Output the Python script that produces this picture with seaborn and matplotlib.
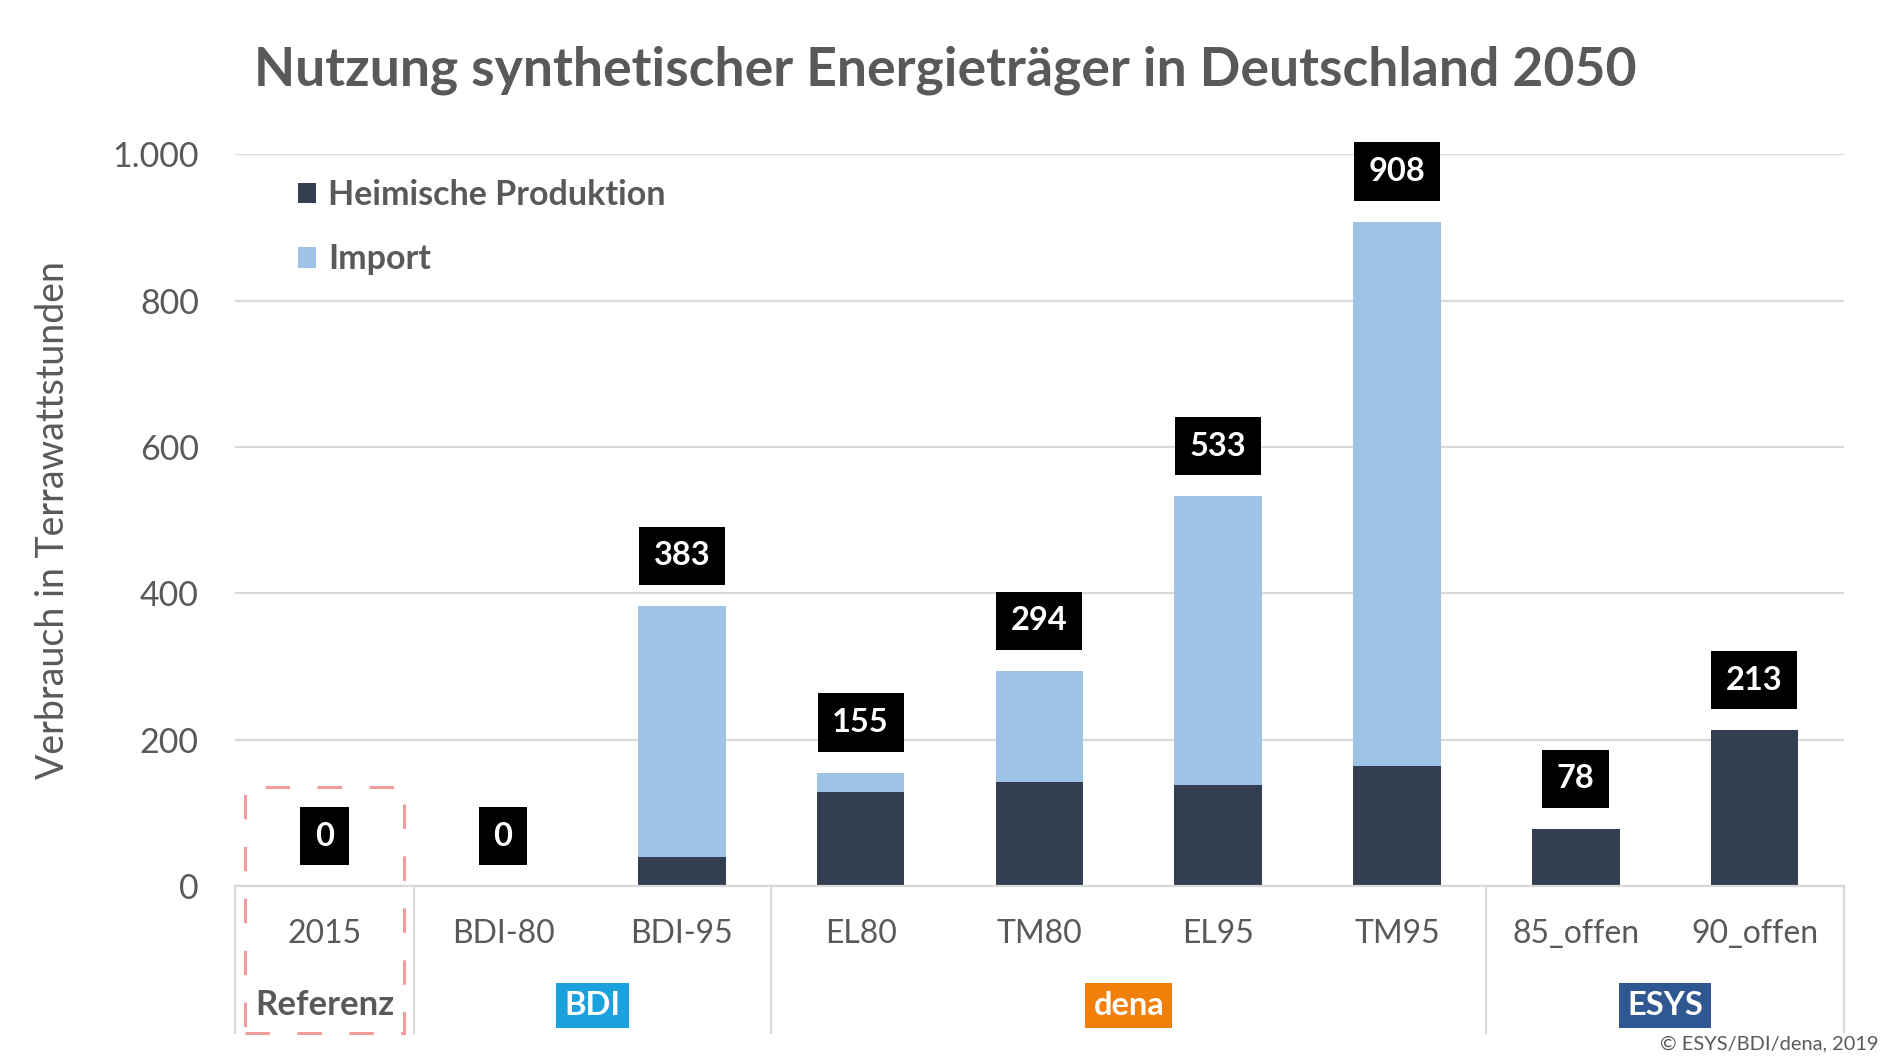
import matplotlib
matplotlib.use("Agg")
import matplotlib.pyplot as plt
import matplotlib.transforms as mtransforms
from matplotlib.patches import Rectangle
import seaborn as sns
import pandas as pd

# ---- data ----
categories = ["2015", "BDI-80", "BDI-95", "EL80", "TM80", "EL95", "TM95", "85_offen", "90_offen"]
domestic = [0, 0, 40, 129, 142, 138, 164, 78, 213]
imports = [0, 0, 343, 26, 152, 395, 744, 0, 0]
totals_label = [0, 0, 383, 155, 294, 533, 908, 78, 213]
y_ticks = [0, 200, 400, 600, 800, 1000]
y_tick_labels = ["0", "200", "400", "600", "800", "1.000"]
groups = ["Referenz", "BDI", "dena", "ESYS"]
group_centers = [0, 1.5, 4.5, 7.5]
group_colors = [None, "#1BA1DE", "#F0800A", "#2F5791"]
separators = [-0.5, 0.5, 2.5, 6.5, 8.5]

DARK = "#333F50"
LIGHT = "#9DC3E6"
GRAY = "#595959"

sns.set_theme(style="white")
plt.rcParams["font.family"] = ["Lato", "DejaVu Sans"]

df = pd.DataFrame({"cat": categories, "dom": domestic,
                   "tot": [d + i for d, i in zip(domestic, imports)]})

fig = plt.figure(figsize=(18.9, 10.63), dpi=100)
ax = fig.add_axes([0.1243, 0.1665, 0.8513, 0.6883])

sns.barplot(data=df, x="cat", y="tot", order=categories, color=LIGHT, saturation=1,
            width=0.49, label="Import", ax=ax, edgecolor="none")
sns.barplot(data=df, x="cat", y="dom", order=categories, color=DARK, saturation=1,
            width=0.49, label="Heimische Produktion", ax=ax, edgecolor="none")

ax.set_xlim(-0.5, 8.5)
ax.set_ylim(0, 1000)
ax.set_yticks(y_ticks)
ax.set_yticklabels(y_tick_labels)
for s in ["top", "right", "left"]:
    ax.spines[s].set_visible(False)
ax.spines["bottom"].set_color("#D9D9D9")
ax.spines["bottom"].set_linewidth(1.6)
ax.grid(axis="y", color="#D9D9D9", linewidth=1.6)
ax.set_axisbelow(True)
ax.tick_params(axis="y", length=0, pad=26, labelsize=24.5, labelcolor=GRAY)
ax.tick_params(axis="x", length=0, pad=24, labelsize=23, labelcolor=GRAY)
ax.set_xlabel("")
ax.set_ylabel("Verbrauch in Terrawattstunden", fontsize=27, color=GRAY, labelpad=30)

# value labels
for i, v in enumerate(totals_label):
    top = df["tot"][i]
    ax.annotate(str(v), xy=(i, top), xytext=(0, 36), textcoords="offset points",
                ha="center", va="center", color="white", fontsize=23.5, fontweight="bold",
                bbox=dict(boxstyle="square,pad=0.45", fc="black", ec="none"),
                annotation_clip=False)

# separators and group labels
blend = mtransforms.blended_transform_factory(ax.transData, ax.transAxes)
for xs in separators:
    ax.plot([xs, xs], [0, -0.201], transform=blend, color="#D9D9D9", lw=1.6,
            clip_on=False)
for g, xc, c in zip(groups, group_centers, group_colors):
    if c is None:
        ax.text(xc, -0.163, g, transform=blend, ha="center", va="center",
                fontsize=25, fontweight="bold", color=GRAY)
    else:
        ax.text(xc, -0.163, g, transform=blend, ha="center", va="center",
                fontsize=23.5, fontweight="bold", color="white",
                bbox=dict(boxstyle="square,pad=0.25", fc=c, ec="none"))

# dashed reference box
rect = Rectangle((-0.446, -0.201), 0.89, 0.201 + 0.135, transform=blend,
                 fill=False, ec="#F29B9B", lw=2.2, linestyle=(0, (8, 9)), clip_on=False)
ax.add_patch(rect)

# legend
h, l = ax.get_legend_handles_labels()
leg = ax.legend([h[1], h[0]], [l[1], l[0]], loc="upper left",
                bbox_to_anchor=(0.02, 1.008), frameon=False, fontsize=24.5,
                handlelength=0.55, handleheight=0.55, handletextpad=0.35,
                labelspacing=0.95)
for t in leg.get_texts():
    t.set_color(GRAY)
    t.set_fontweight("bold")

fig.text(0.5, 0.934, "Nutzung synthetischer Energieträger in Deutschland 2050",
         ha="center", va="center", fontsize=38.5, fontweight="bold", color=GRAY)
fig.text(0.994, 0.018, "© ESYS/BDI/dena, 2019", ha="right", va="center",
         fontsize=14.4, color=GRAY)

fig.savefig("out.png", dpi=100, facecolor="white")
